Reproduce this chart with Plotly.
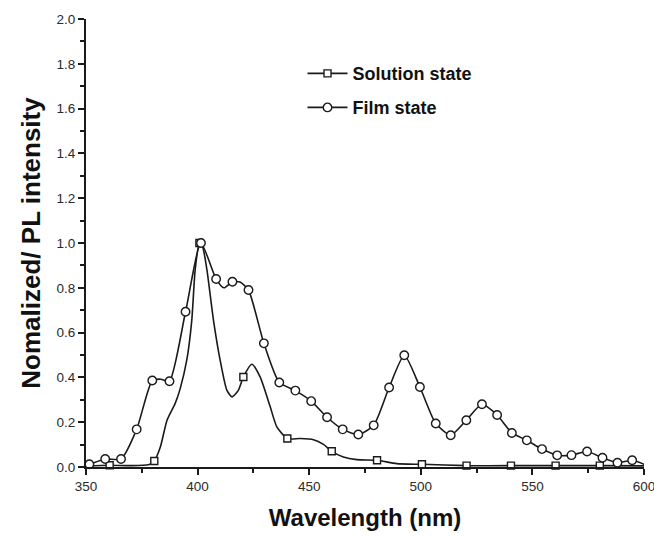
import plotly.graph_objects as go

# ---------------- data ----------------
sol_x = [350, 360.6, 370, 378, 380.6, 383.3, 386.3, 390.0, 392.2, 395.2, 397.4, 398.9,
         400.8, 402.2, 404.2, 407.1, 410.1, 413.1, 415.4, 418.3, 420.5, 424.3, 428.0,
         432.5, 435.5, 440.2, 445.9, 451.9, 456.4, 460.1, 465.3, 471.3, 480.4, 489.2,
         500.5, 520.5, 540.4, 560.4, 580.2, 600]
sol_y = [0.005, 0.008, 0.006, 0.010, 0.027, 0.089, 0.209, 0.285, 0.350, 0.480, 0.656, 0.879,
         1.000, 0.985, 0.879, 0.656, 0.477, 0.343, 0.313, 0.343, 0.402, 0.459, 0.402,
         0.270, 0.179, 0.127, 0.127, 0.122, 0.101, 0.070, 0.045, 0.033, 0.030, 0.015,
         0.012, 0.006, 0.006, 0.006, 0.006, 0.005]
sol_mark_x = [360.6, 380.6, 400.8, 420.5, 440.2, 460.1, 480.4, 500.5, 520.5, 540.4, 560.4, 580.2]

film_x = [350, 351.5, 358.6, 365.7, 372.7, 379.7, 383.5, 387.4, 394.6, 401.5, 408.3, 411.8,
          415.6, 419.0, 422.8, 429.7, 436.6, 443.8, 450.9, 458.0, 465.0, 472.0, 478.9,
          485.8, 492.6, 499.6, 506.7, 513.4, 520.4, 527.4, 534.2, 540.8, 547.5, 554.3,
          561.1, 567.5, 574.5, 581.4, 588.1, 594.7, 600]
film_y = [0.008, 0.012, 0.036, 0.036, 0.168, 0.386, 0.392, 0.383, 0.693, 1.000, 0.839, 0.800,
          0.827, 0.826, 0.790, 0.552, 0.377, 0.341, 0.294, 0.222, 0.168, 0.145, 0.186,
          0.355, 0.499, 0.357, 0.194, 0.142, 0.209, 0.280, 0.232, 0.152, 0.119, 0.080,
          0.052, 0.053, 0.069, 0.041, 0.019, 0.030, 0.012]
film_mark_x = [351.5, 358.6, 365.7, 372.7, 379.7, 387.4, 394.6, 401.5, 408.3, 415.6, 422.8,
               429.7, 436.6, 443.8, 450.9, 458.0, 465.0, 472.0, 478.9, 485.8, 492.6, 499.6,
               506.7, 513.4, 520.4, 527.4, 534.2, 540.8, 547.5, 554.3, 561.1, 567.5, 574.5,
               581.4, 588.1, 594.7]

x_ticks = [350, 400, 450, 500, 550, 600]
y_ticks = [0.0, 0.2, 0.4, 0.6, 0.8, 1.0, 1.2, 1.4, 1.6, 1.8, 2.0]
names = ["Solution state", "Film state"]
x_title = "Wavelength (nm)"
y_title = "Nomalized/ PL intensity"

sol_mark_y = [sol_y[sol_x.index(v)] for v in sol_mark_x]
film_mark_y = [film_y[film_x.index(v)] for v in film_mark_x]

INK = "#1a1a1a"
fig = go.Figure()

# smooth lines
fig.add_trace(go.Scatter(x=sol_x, y=sol_y, mode="lines", showlegend=False,
                         line=dict(color=INK, width=1.6, shape="spline", smoothing=0.6),
                         hoverinfo="skip"))
fig.add_trace(go.Scatter(x=film_x, y=film_y, mode="lines", showlegend=False,
                         line=dict(color=INK, width=1.6, shape="spline", smoothing=0.6),
                         hoverinfo="skip"))
# markers
fig.add_trace(go.Scatter(x=sol_mark_x, y=sol_mark_y, mode="markers", showlegend=False,
                         marker=dict(symbol="square", size=7, color="white",
                                     line=dict(color=INK, width=1.4)), cliponaxis=False))
fig.add_trace(go.Scatter(x=film_mark_x, y=film_mark_y, mode="markers", showlegend=False,
                         marker=dict(symbol="circle", size=8.5, color="white",
                                     line=dict(color=INK, width=1.4)), cliponaxis=False))
# legend entries
fig.add_trace(go.Scatter(x=[None], y=[None], mode="lines+markers",
                         name="<b>" + names[0] + "</b>", legend="legend",
                         line=dict(color=INK, width=1.6),
                         marker=dict(symbol="square", size=7, color="white",
                                     line=dict(color=INK, width=1.4))))
fig.add_trace(go.Scatter(x=[None], y=[None], mode="lines+markers",
                         name="<b>" + names[1] + "</b>", legend="legend2",
                         line=dict(color=INK, width=1.6),
                         marker=dict(symbol="circle", size=8.5, color="white",
                                     line=dict(color=INK, width=1.4))))

axis_common = dict(showgrid=False, zeroline=False, showline=True, linecolor=INK,
                   linewidth=2, ticks="outside", tickcolor=INK, tickwidth=1.5, ticklen=6)

legend_font = dict(family="Liberation Sans, Arial, sans-serif", size=18, color="#111")
tick_font = dict(family="Liberation Sans, Arial, sans-serif", size=13.5, color="#2a2a2a")

fig.update_layout(
    width=654, height=536,
    margin=dict(l=86, r=10, t=19, b=69, autoexpand=False),
    paper_bgcolor="white", plot_bgcolor="white",
    font=dict(family="Liberation Sans, Arial, sans-serif", color="#222"),
    xaxis=dict(range=[350, 600], tickvals=x_ticks, ticktext=[str(v) for v in x_ticks],
               tickfont=tick_font, ticklabeloverflow="allow", automargin=False,
               minor=dict(dtick=25, tick0=350, ticks="outside", ticklen=4, tickcolor=INK,
                          tickwidth=1.5),
               title=dict(text="<b>" + x_title + "</b>", font=dict(size=24, color="#111"),
                          standoff=16),
               **axis_common),
    yaxis=dict(range=[0, 2.0], tickvals=y_ticks, ticktext=["%.1f" % v for v in y_ticks],
               tickfont=tick_font, automargin=False,
               minor=dict(dtick=0.1, tick0=0, ticks="outside", ticklen=4, tickcolor=INK,
                          tickwidth=1.5),
               title=dict(text="<b>" + y_title + "</b>", font=dict(size=26, color="#111"),
                          standoff=8),
               **axis_common),
    xaxis2=dict(range=[350, 600], overlaying="x", side="top", anchor="y2",
                showgrid=False, zeroline=False, showline=True, linecolor=INK, linewidth=2,
                ticks="inside", tickvals=x_ticks, showticklabels=False, ticklen=4,
                tickcolor=INK, tickwidth=1.5, automargin=False,
                minor=dict(dtick=25, tick0=350, ticks="inside", ticklen=4, tickcolor=INK,
                           tickwidth=1.5)),
    yaxis2=dict(range=[0, 2.0], overlaying="y", side="right", anchor="x2",
                showgrid=False, zeroline=False, showline=True, linecolor=INK, linewidth=2,
                ticks="inside", tickvals=y_ticks, showticklabels=False, ticklen=4,
                tickcolor=INK, tickwidth=1.5, automargin=False,
                minor=dict(dtick=0.1, tick0=0, ticks="inside", ticklen=3, tickcolor=INK,
                           tickwidth=1.5)),
    legend=dict(x=0.388, y=0.878, xanchor="left", yanchor="middle",
                bgcolor="rgba(0,0,0,0)", font=legend_font, itemwidth=40),
    legend2=dict(x=0.388, y=0.802, xanchor="left", yanchor="middle",
                 bgcolor="rgba(0,0,0,0)", font=legend_font, itemwidth=40),
)

fig.write_html("out.html")
